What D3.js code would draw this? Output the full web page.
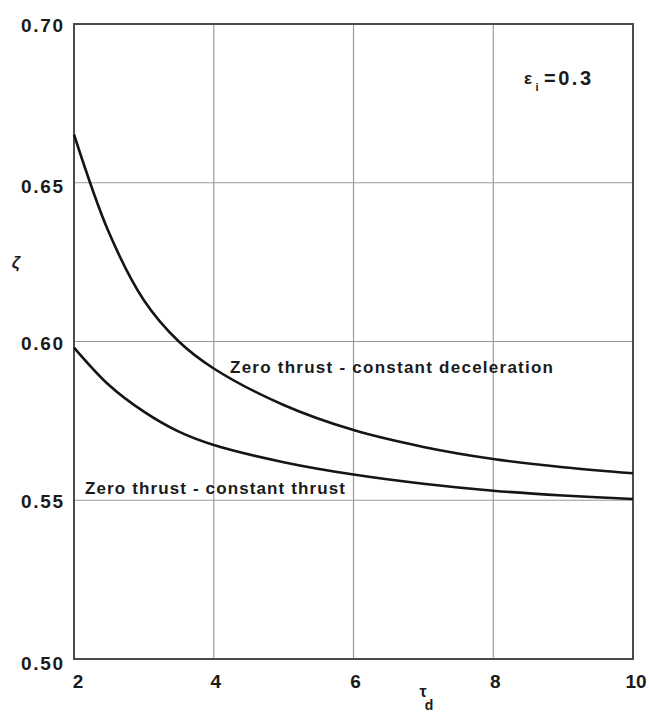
<!DOCTYPE html>
<html>
<head>
<meta charset="utf-8">
<script src="https://cdn.jsdelivr.net/npm/d3@7"></script>
<style>
  html, body { margin: 0; padding: 0; background: #fff; }
  svg { display: block; }
  text { font-family: "Liberation Sans", Arial, sans-serif; fill: #1b1b1b; }
</style>
</head>
<body>
<svg id="chart" width="649" height="713"></svg>
<script>
// Non-dimensional time τd and the resulting ζ for the two thrust programmes (εi = 0.3)
const tau = [2, 2.5, 3, 3.5, 4, 5, 6, 7, 8, 9, 10];
const zetaDeceleration = [0.6652, 0.6343, 0.6130, 0.6000, 0.5915, 0.5800, 0.5721, 0.5668, 0.5630, 0.5604, 0.5585];
const zetaConstThrust  = [0.5981, 0.5863, 0.5779, 0.5716, 0.5674, 0.5620, 0.5581, 0.5552, 0.5530, 0.5515, 0.5504];

const xTicks = [2, 4, 6, 8, 10];
const yTicks = [0.50, 0.55, 0.60, 0.65, 0.70];
const labelDeceleration = "Zero thrust - constant deceleration";
const labelConstThrust = "Zero thrust - constant thrust";

const svg = d3.select("#chart");
const box = { left: 74, right: 633, top: 24, bottom: 659 };

const x = d3.scaleLinear().domain([2, 10]).range([box.left, box.right]);
const y = d3.scaleLinear().domain([0.50, 0.70]).range([box.bottom, box.top]);

// grid
const grid = svg.append("g");
grid.selectAll("line.gx").data(xTicks.slice(1, -1)).join("line")
  .attr("x1", d => x(d)).attr("x2", d => x(d))
  .attr("y1", box.top).attr("y2", box.bottom)
  .attr("stroke", "#9a9a9a").attr("stroke-width", 1.2);
grid.selectAll("line.gy").data(yTicks.slice(1, -1)).join("line")
  .attr("y1", d => y(d)).attr("y2", d => y(d))
  .attr("x1", box.left).attr("x2", box.right)
  .attr("stroke", "#9a9a9a").attr("stroke-width", 1.2);

// frame
svg.append("rect")
  .attr("x", box.left).attr("y", box.top)
  .attr("width", box.right - box.left).attr("height", box.bottom - box.top)
  .attr("fill", "none").attr("stroke", "#4a4a4a").attr("stroke-width", 2);

// y tick labels
const yOffsets = { "0.50": 4, "0.55": 1, "0.60": 1, "0.65": 3, "0.70": 1 };
svg.append("g").selectAll("text").data(yTicks).join("text")
  .attr("x", 63)
  .attr("y", d => y(d) + 7 + (yOffsets[d.toFixed(2)] || 0))
  .attr("text-anchor", "end")
  .attr("font-size", 19).attr("font-weight", "bold")
  .attr("textLength", 42).attr("lengthAdjust", "spacing")
  .text(d => d.toFixed(2));

// x tick labels
svg.append("g").selectAll("text").data(xTicks).join("text")
  .attr("x", d => x(d) + (d === 2 ? 4 : d === 10 ? 3 : 2))
  .attr("y", 688)
  .attr("text-anchor", "middle")
  .attr("font-size", 19).attr("font-weight", "bold")
  .text(d => d);

// curves
const line = d3.line()
  .x(d => x(d[0])).y(d => y(d[1]))
  .curve(d3.curveCatmullRom.alpha(0.5));

[zetaDeceleration, zetaConstThrust].forEach(vals => {
  svg.append("path")
    .datum(tau.map((t, i) => [t, vals[i]]))
    .attr("d", line)
    .attr("fill", "none")
    .attr("stroke", "#151515")
    .attr("stroke-width", 2.6)
    .attr("stroke-linejoin", "round");
});

// curve labels
svg.append("text")
  .attr("x", 230).attr("y", 373)
  .attr("font-size", 17).attr("font-weight", "bold")
  .attr("textLength", 323).attr("lengthAdjust", "spacing")
  .text(labelDeceleration);
svg.append("text")
  .attr("x", 85).attr("y", 494)
  .attr("font-size", 17).attr("font-weight", "bold")
  .attr("textLength", 260).attr("lengthAdjust", "spacing")
  .text(labelConstThrust);

// parameter note: εi = 0.3
svg.append("text").attr("x", 528).attr("y", 84)
  .attr("text-anchor", "middle")
  .attr("font-size", 17).attr("font-weight", "bold").text("ε");
svg.append("text").attr("x", 537).attr("y", 91)
  .attr("text-anchor", "middle")
  .attr("font-size", 11).attr("font-weight", "bold").text("i");
svg.append("text").attr("x", 544).attr("y", 85)
  .attr("font-size", 20).attr("font-weight", "bold")
  .attr("textLength", 47).attr("lengthAdjust", "spacing")
  .text("=0.3");

// axis titles
svg.append("text")
  .attr("x", 16).attr("y", 268)
  .attr("text-anchor", "middle")
  .attr("font-size", 17).attr("font-style", "italic").attr("font-weight", "bold")
  .text("ζ");

svg.append("text").attr("x", 423).attr("y", 697)
  .attr("text-anchor", "middle")
  .attr("font-size", 16).attr("font-weight", "bold").text("τ");
svg.append("text").attr("x", 429).attr("y", 710)
  .attr("text-anchor", "middle")
  .attr("font-size", 14).attr("font-weight", "bold").text("d");
</script>
</body>
</html>
